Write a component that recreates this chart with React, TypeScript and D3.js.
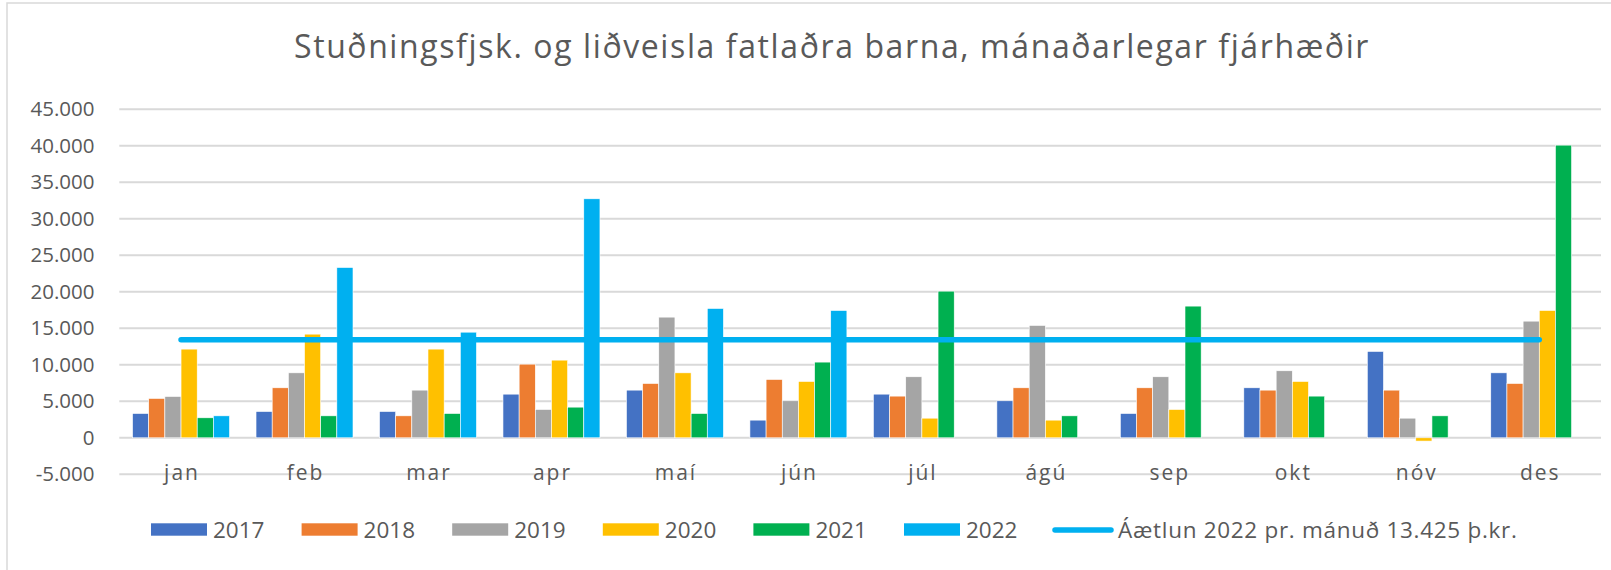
import React from "react";
import * as d3 from "d3";

const months = ["jan", "feb", "mar", "apr", "maí", "jún", "júl", "ágú", "sep", "okt", "nóv", "des"];
const seriesNames = ["2017", "2018", "2019", "2020", "2021", "2022"];
const colors = ["#4472C4", "#ED7D31", "#A5A5A5", "#FFC000", "#00B050", "#00B0F0"];

const v2017 = [3330, 3600, 3600, 5980, 6530, 2420, 5980, 5070, 3330, 6850, 11830, 8900];
const v2018 = [5390, 6850, 3010, 10090, 7440, 7990, 5710, 6850, 6850, 6530, 6530, 7440];
const v2019 = [5660, 8900, 6530, 3880, 16530, 5070, 8360, 15390, 8360, 9180, 2690, 15980];
const v2020 = [12150, 14200, 12150, 10640, 8900, 7720, 2690, 2420, 3880, 7720, -450, 17440];
const v2021 = [2740, 3010, 3330, 4200, 3330, 10370, 20090, 3010, 18040, 5710, 3010, 40090];
const v2022: (number | null)[] = [3010, 23330, 14470, 32740, 17720, 17440, null, null, null, null, null, null];
const budget = 13425;
const budgetLabel = "Áætlun 2022 pr. mánuð 13.425 þ.kr.";
const yTicks = [-5000, 0, 5000, 10000, 15000, 20000, 25000, 30000, 35000, 40000, 45000];
const title = "Stuðningsfjsk. og liðveisla fatlaðra barna, mánaðarlegar fjárhæðir";

const allSeries = [v2017, v2018, v2019, v2020, v2021, v2022];

const fmt = (v: number) => {
  const s = Math.abs(v).toString().replace(/\B(?=(\d{3})+(?!\d))/g, ".");
  return v < 0 ? "-" + s : s;
};

export default function App() {
  const W = 1611, H = 570;
  const left = 119.3, right = 1601;
  const x = d3.scaleBand<string>().domain(months).range([left, right]).paddingInner(0.2146).paddingOuter(0.1073);
  const xs = d3.scaleBand<string>().domain(seriesNames).range([0, x.bandwidth()]).padding(0);
  const y = d3.scaleLinear().domain([-5000, 45000]).range([474.3, 109.3]);
  const textColor = "#595959";
  const font = "'Open Sans', sans-serif";

  const line = d3.line<number>()
    .x((_, i) => (x(months[i]) as number) + x.bandwidth() / 2)
    .y((d) => y(d));
  const lineData = months.map(() => budget);

  return (
    <svg width={W} height={H} style={{ position: "absolute", left: 0, top: 0, background: "#fff" }}>
      <rect x={0} y={0} width={W} height={H} fill="#fff" />
      <rect x={7} y={3} width={W + 20} height={H + 20} fill="#fff" stroke="#d9d9d9" strokeWidth={1.5} />
      <text x={832} y={58} textAnchor="middle" fontFamily={font} fontSize={32} letterSpacing={1.6} fill={textColor}>{title}</text>
      {yTicks.map((t) => (
        <g key={t}>
          <line x1={left} x2={right} y1={y(t)} y2={y(t)} stroke="#d9d9d9" strokeWidth={2} />
          <text x={94.5} y={y(t) + 7} textAnchor="end" fontFamily={font} fontSize={20.5} fill={textColor}>{fmt(t)}</text>
        </g>
      ))}
      {allSeries.map((vals, si) => (
        <g key={si}>
          {vals.map((v, mi) => {
            if (v === null) return null;
            const bx = (x(months[mi]) as number) + (xs(seriesNames[si]) as number);
            const y0 = y(0), y1 = y(v);
            return (
              <rect key={mi} x={bx} y={Math.min(y0, y1)} width={xs.bandwidth()} height={Math.abs(y1 - y0)}
                fill={colors[si]} stroke="#ffffff" strokeWidth={0.6} />
            );
          })}
        </g>
      ))}
      <path d={line(lineData) || ""} fill="none" stroke="#00B0F0" strokeWidth={5.5} strokeLinecap="round" />
      {months.map((m) => (
        <text key={m} x={(x(m) as number) + x.bandwidth() / 2 + 1} y={480} textAnchor="middle" fontFamily={font}
          fontSize={21} letterSpacing={2} fill={textColor}>{m}</text>
      ))}
      {seriesNames.map((s, i) => (
        <g key={s}>
          <rect x={151 + i * 150.6} y={523.3} width={56} height={12.4} fill={colors[i]} />
          <text x={151 + i * 150.6 + 62} y={538} fontFamily={font} fontSize={22.5} fill={textColor}>{s}</text>
        </g>
      ))}
      <line x1={1055} x2={1111} y1={530} y2={530} stroke="#00B0F0" strokeWidth={5.5} strokeLinecap="round" />
      <text x={1118} y={538} fontFamily={font} fontSize={22.5} letterSpacing={0.7} fill={textColor}>{budgetLabel}</text>
    </svg>
  );
}
